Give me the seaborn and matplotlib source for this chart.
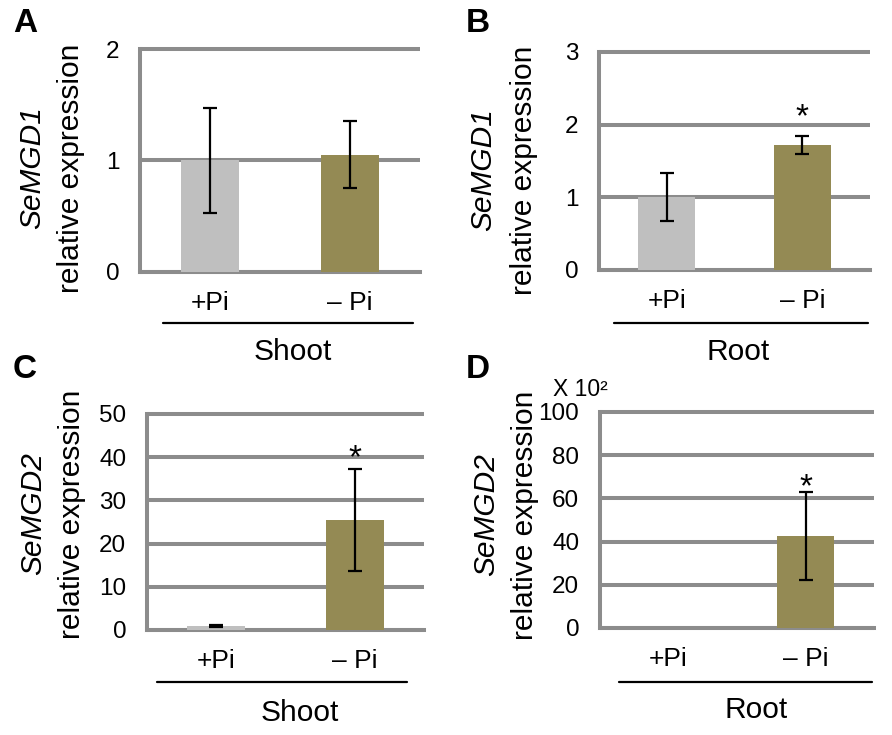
import numpy as np
import pandas as pd
import matplotlib
matplotlib.use('Agg')
import matplotlib.pyplot as plt
import seaborn as sns

# values (means and error half-widths)
conditions = ['+Pi', '\u2013 Pi']
a_mean = [1.0, 1.05]
a_err = [0.47, 0.30]
b_mean = [1.0, 1.72]
b_err = [0.33, 0.12]
c_mean = [1.0, 25.5]
c_err = [0.2, 11.8]
d_mean = [0.01, 42.6]
d_err = [0.0, 20.2]

a_ticks = [0, 1, 2]
b_ticks = [0, 1, 2, 3]
c_ticks = [0, 10, 20, 30, 40, 50]
d_ticks = [0, 20, 40, 60, 80, 100]

GRID = '#8c8c8c'
BAR_COLORS = ['#bfbfbf', '#948a54']
W, H = 892, 735

sns.set_style('white')
plt.rcParams['font.family'] = ['Liberation Sans', 'DejaVu Sans']
plt.rcParams['text.color'] = 'black'
plt.rcParams['xtick.labelcolor'] = 'black'
plt.rcParams['ytick.labelcolor'] = 'black'

fig = plt.figure(figsize=(W / 100, H / 100), dpi=100)


def px_rect(l, t, r, b):
    return [l / W, 1 - b / H, (r - l) / W, (b - t) / H]


def fx(x):
    return x / W


def fy(y):
    return 1 - y / H


def panel(rect, means, errs, ticks, star=None):
    ax = fig.add_axes(px_rect(*rect))
    df = pd.DataFrame({'cond': conditions, 'val': means})
    sns.barplot(data=df, x='cond', y='val', hue='cond', palette=BAR_COLORS, legend=False,
                width=0.42, saturation=1, errorbar=None, linewidth=0, ax=ax, zorder=3)
    keep = [i for i, e in enumerate(errs) if e > 0]
    ax.errorbar(keep, [means[i] for i in keep], yerr=[errs[i] for i in keep], fmt='none',
                ecolor='black', elinewidth=1.6, capsize=5, capthick=1.6, zorder=4)
    ax.set_xlim(-0.5, 1.5)
    ax.set_ylim(ticks[0], ticks[-1])
    ax.set_yticks(ticks)
    for v in ticks:
        ax.axhline(v, color=GRID, lw=2.9, clip_on=False, zorder=1, solid_capstyle='butt')
    for side in ['top', 'right']:
        ax.spines[side].set_visible(False)
    for side in ['left', 'bottom']:
        ax.spines[side].set_color(GRID)
        ax.spines[side].set_linewidth(2.9)
    ax.set_xticks([-0.5, 0.5, 1.5], minor=True)
    ax.tick_params(axis='x', which='major', length=0, pad=14, labelsize=19)
    ax.tick_params(axis='x', which='minor', length=9.5, width=2.9, color=GRID, direction='out')
    ax.tick_params(axis='y', length=7, width=2.9, color=GRID, direction='out', pad=8,
                   labelsize=17.5)
    ax.set_xlabel('')
    ax.set_ylabel('')
    if star is not None:
        ax.text(1, star, '*', ha='center', va='center', fontsize=24, zorder=5)
    return ax


panel((140, 49, 420, 272), a_mean, a_err, a_ticks)
panel((599, 52, 870, 270), b_mean, b_err, b_ticks, star=2.10)
panel((147, 414, 424, 630), c_mean, c_err, c_ticks, star=39.6)
panel((600, 412, 874, 628), d_mean, d_err, d_ticks, star=64.8)

# panel letters
for letter, x, y in [('A', 25, 24), ('B', 478, 24), ('C', 25, 370), ('D', 478, 370)]:
    fig.text(fx(x), fy(y), letter, ha='center', va='center', fontsize=24, fontweight='bold')

# two-line y labels
for gene, x1, x2, y in [('SeMGD1', 32, 71, 168), ('SeMGD1', 483, 524, 170),
                        ('SeMGD2', 33, 72, 514), ('SeMGD2', 486, 525, 515)]:
    fig.text(fx(x1), fy(y), gene, rotation=90, ha='center', va='center', fontsize=21.5, style='italic')
    fig.text(fx(x2), fy(y), 'relative expression', rotation=90, ha='center', va='center', fontsize=21.5)

# tissue brackets
for tissue, x0, x1, ly, tx, ty in [('Shoot', 163, 413, 323, 293, 352), ('Root', 614, 868, 323, 738, 352),
                                   ('Shoot', 157, 407, 682, 300, 713), ('Root', 619, 872, 682, 756, 710)]:
    fig.add_artist(plt.Line2D([fx(x0), fx(x1)], [fy(ly), fy(ly)], color='black', lw=1.6))
    fig.text(fx(tx), fy(ty), tissue, ha='center', va='center', fontsize=21.5)

fig.text(fx(553), fy(389), 'X 10\u00b2', ha='left', va='center', fontsize=16.5)

fig.savefig('out.png', dpi=100)
